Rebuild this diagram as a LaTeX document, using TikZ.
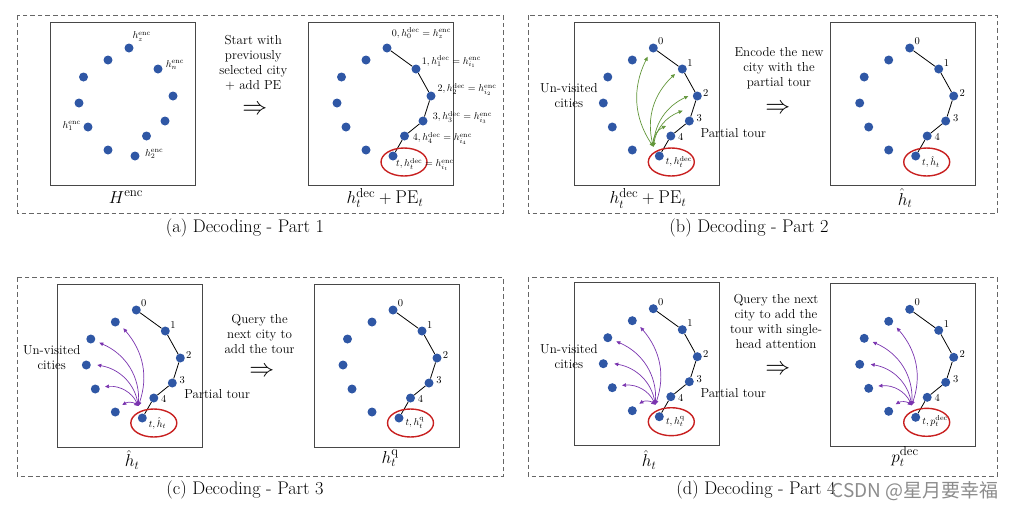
\documentclass[tikz,border=0pt]{standalone}
\usepackage{fontspec}
\newfontfamily\cjk{Noto Sans CJK SC}
\usetikzlibrary{arrows.meta,shapes.geometric}
\definecolor{dotblue}{RGB}{47,87,165}
\definecolor{arrgreen}{RGB}{98,150,58}
\definecolor{arrpurple}{RGB}{122,52,175}
\definecolor{ringred}{RGB}{200,32,32}
\tikzset{
  dot/.style={circle,fill=dotblue,inner sep=0pt,minimum size=9pt},
  tour/.style={draw=black,line width=0.8pt},
  innerbox/.style={draw=black!72,line width=1pt},
  outerbox/.style={draw=black!60,line width=0.8pt,dash pattern=on 4.5pt off 3pt},
  ring/.style={draw=ringred,line width=1.4pt,ellipse,inner sep=0pt,minimum width=46pt,minimum height=28pt},
  lbl/.style={font=\fontsize{10.3}{12}\selectfont,inner sep=0pt},
  num/.style={font=\fontsize{10.5}{12}\selectfont,inner sep=0pt},
  midtext/.style={font=\fontsize{13}{15}\selectfont,align=center,inner sep=0pt},
  imp/.style={font=\fontsize{29}{30}\selectfont,inner sep=0pt},
  captext/.style={font=\fontsize{18.3}{21}\selectfont,inner sep=0pt},
  boxlbl/.style={font=\fontsize{18.5}{21}\selectfont,inner sep=0pt},
  garr/.style={draw=arrgreen,line width=0.7pt,{Triangle[length=4pt,width=3.6pt]}-{Triangle[length=4pt,width=3.6pt]}},
  parr/.style={draw=arrpurple,line width=0.7pt,{Triangle[length=4pt,width=3.6pt]}-{Triangle[length=4pt,width=3.6pt]}},
  cities/.pic={
    \draw[innerbox] (0,0) rectangle (145,163);
    \node[dot] (-0) at (79,26) {};
    \node[dot] (-u1) at (58,38) {};
    \node[dot] (-1) at (108,47) {};
    \node[dot] (-u2) at (33.5,55) {};
    \node[dot] (-2) at (123,74) {};
    \node[dot] (-u3) at (29,81) {};
    \node[dot] (-3) at (115,99) {};
    \node[dot] (-u4) at (38,105) {};
    \node[dot] (-4) at (96.5,114) {};
    \node[dot] (-u5) at (58,128) {};
    \node[dot] (-t) at (85,134) {};
  }
}
\newcommand\tourlines[1]{\draw[tour] (#1-0) -- (#1-1) -- (#1-2) -- (#1-3) -- (#1-4) -- (#1-t);}
\newcommand\numlabels[1]{%
  \node[num] (#1-l0) at ([shift={(7.5,-7)}]#1-0) {0};
  \node[num] (#1-l1) at ([shift={(7.7,-6.3)}]#1-1) {1};
  \node[num] (#1-l2) at ([shift={(8.5,-3)}]#1-2) {2};
  \node[num] (#1-l3) at ([shift={(10,-3)}]#1-3) {3};
  \node[num] (#1-l4) at ([shift={(10,1)}]#1-4) {4};
}
\newcommand\purplefan[1]{%
  \coordinate (#1-s) at ([shift={(-4,-12)}]#1-t);
  \coordinate (#1-a1) at ([shift={(8,6.3)}]#1-u1);
  \coordinate (#1-a2) at ([shift={(8.5,3.7)}]#1-u2);
  \coordinate (#1-a3) at ([shift={(11,0)}]#1-u3);
  \coordinate (#1-a4) at ([shift={(9.7,-2.3)}]#1-u4);
  \coordinate (#1-a5) at ([shift={(7,-7)}]#1-u5);
  \draw[parr] (#1-s) to[bend right=30] (#1-a1);
  \draw[parr] (#1-s) to[bend right=35] (#1-a2);
  \draw[parr] (#1-s) to[bend right=35] (#1-a3);
  \draw[parr] (#1-s) to[bend right=35] (#1-a4);
  \draw[parr] (#1-s) to[bend right=35] (#1-a5);
}
\begin{document}
\begin{tikzpicture}[x=1pt,y=-1pt]
\useasboundingbox (0,0) rectangle (1017,512);
% outer dashed frames
\draw[outerbox] (17,15) rectangle (503,213);
\draw[outerbox] (528,15) rectangle (997,213);
\draw[outerbox] (17,277) rectangle (503,476);
\draw[outerbox] (528,277) rectangle (997,476);
% captions
\node[captext] (capa) at (245,228) {(a) Decoding - Part 1};
\node[captext] (capb) at (749,228) {(b) Decoding - Part 2};
\node[captext] (capc) at (245,490) {(c) Decoding - Part 3};
\node[captext] (capd) at (756,490) {(d) Decoding - Part 4};

% ---------- (a) ----------
\pic (aL) at (50,22) {cities};
\node[lbl] (aL-lz) at (141.7,36.7) {$h_z^{\mathrm{enc}}$};
\node[lbl] (aL-ln) at (175,65) {$h_n^{\mathrm{enc}}$};
\node[lbl] (aL-l1) at (71.7,126) {$h_1^{\mathrm{enc}}$};
\node[lbl] (aL-l2) at (154.3,154) {$h_2^{\mathrm{enc}}$};
\node[boxlbl] (aL-name) at (126,197) {$H^{\mathrm{enc}}$};
\node[midtext] (a-txt) at (253.3,62.5) {Start with\\previously\\selected city\\+ add PE};
\node[imp] (a-imp) at (254.7,110) {$\Rightarrow$};
\pic (aR) at (308,22) {cities};
\tourlines{aR}
\node[ring] (aR-ring) at ([shift={(11,6)}]aR-t) {};
\node[lbl,anchor=west] (aR-l0) at (391.7,33.3) {$0, h_0^{\mathrm{dec}} = h_z^{\mathrm{enc}}$};
\node[lbl,anchor=west] (aR-l1) at (421.7,61.7) {$1, h_1^{\mathrm{dec}} = h_{i_1}^{\mathrm{enc}}$};
\node[lbl,anchor=west] (aR-l2) at (437.3,89.3) {$2, h_2^{\mathrm{dec}} = h_{i_2}^{\mathrm{enc}}$};
\node[lbl,anchor=west] (aR-l3) at (432.7,117.3) {$3, h_3^{\mathrm{dec}} = h_{i_3}^{\mathrm{enc}}$};
\node[lbl,anchor=west] (aR-l4) at (412.7,138.3) {$4, h_4^{\mathrm{dec}} = h_{i_4}^{\mathrm{enc}}$};
\node[lbl,anchor=west] (aR-lt) at (396,164.3) {$t, h_t^{\mathrm{dec}} = h_{i_t}^{\mathrm{enc}}$};
\node[boxlbl] (aR-name) at (385,198) {$h_t^{\mathrm{dec}} + \mathrm{PE}_t$};

% ---------- (b) ----------
\pic (bL) at (574.3,22) {cities};
\tourlines{bL}
\numlabels{bL}
\node[ring] (bL-ring) at ([shift={(12,6)}]bL-t) {};
\node[lbl,anchor=west] (bL-lt) at ([shift={(6.3,5.7)}]bL-t) {$t, h_t^{\mathrm{dec}}$};
\coordinate (bL-s) at ([shift={(-6,-9.3)}]bL-t);
\coordinate (bL-a0) at ([shift={(-5.7,8.7)}]bL-0);
\coordinate (bL-a1) at ([shift={(-7.3,5)}]bL-1);
\coordinate (bL-a2) at ([shift={(-9,0)}]bL-2);
\coordinate (bL-a3) at ([shift={(-6.7,-10.3)}]bL-3);
\coordinate (bL-a4) at ([shift={(-4.8,-10)}]bL-4);
\draw[garr] (bL-s) to[bend left=30] (bL-a0);
\draw[garr] (bL-s) to[bend left=30] (bL-a1);
\draw[garr] (bL-s) to[bend left=30] (bL-a2);
\draw[garr] (bL-s) to[bend left=30] (bL-a3);
\draw[garr] (bL-s) to[bend left=35] (bL-a4);
\node[midtext] (bL-unv) at (568.9,95.8) {Un-visited\\cities};
\node[midtext] (bL-part) at (733.3,132.7) {Partial tour};
\node[boxlbl] (bL-name) at (648,198.3) {$h_t^{\mathrm{dec}} + \mathrm{PE}_t$};
\node[midtext] (b-txt) at (779,68.5) {Encode the new\\city with the\\partial tour};
\node[imp] (b-imp) at (777.7,109) {$\Rightarrow$};
\pic (bR) at (830.7,22) {cities};
\tourlines{bR}
\numlabels{bR}
\node[ring] (bR-ring) at ([shift={(11,6)}]bR-t) {};
\node[lbl,anchor=west] (bR-lt) at ([shift={(6.3,6)}]bR-t) {$t, \hat{h}_t$};
\node[boxlbl] (bR-name) at (905,198.3) {$\hat{h}_t$};

% ---------- (c) ----------
\pic (cL) at (57.3,284) {cities};
\tourlines{cL}
\numlabels{cL}
\purplefan{cL}
\node[ring] (cL-ring) at ([shift={(11.5,5)}]cL-t) {};
\node[lbl,anchor=west] (cL-lt) at ([shift={(6.3,5.5)}]cL-t) {$t, \hat{h}_t$};
\node[midtext] (cL-unv) at (51.7,357.5) {Un-visited\\cities};
\node[midtext] (cL-part) at (217.2,394.3) {Partial tour};
\node[boxlbl] (cL-name) at (132,460) {$\hat{h}_t$};
\node[midtext] (c-txt) at (259.6,334.2) {Query the\\next city to\\add the tour};
\node[imp] (c-imp) at (261.7,371.7) {$\Rightarrow$};
\pic (cR) at (314,284) {cities};
\tourlines{cR}
\numlabels{cR}
\node[ring] (cR-ring) at ([shift={(11.5,5)}]cR-t) {};
\node[lbl,anchor=west] (cR-lt) at ([shift={(6.3,5)}]cR-t) {$t, h_t^{\mathrm{q}}$};
\node[boxlbl] (cR-name) at (390,458.3) {$h_t^{\mathrm{q}}$};

% ---------- (d) ----------
\pic (dL) at (574.3,282.7) {cities};
\tourlines{dL}
\numlabels{dL}
\purplefan{dL}
\node[ring] (dL-ring) at ([shift={(12,5)}]dL-t) {};
\node[lbl,anchor=west] (dL-lt) at ([shift={(6.5,5)}]dL-t) {$t, h_t^{\mathrm{q}}$};
\node[midtext] (dL-unv) at (568.9,356.2) {Un-visited\\cities};
\node[midtext] (dL-part) at (733.3,392.7) {Partial tour};
\node[boxlbl] (dL-name) at (649,460) {$\hat{h}_t$};
\node[midtext] (d-txt) at (776,321) {Query the next\\city to add the\\tour with single-\\head attention};
\node[imp] (d-imp) at (777.8,370) {$\Rightarrow$};
\pic (dR) at (830.7,283.3) {cities};
\tourlines{dR}
\numlabels{dR}
\purplefan{dR}
\node[ring] (dR-ring) at ([shift={(11,5)}]dR-t) {};
\node[lbl,anchor=west] (dR-lt) at ([shift={(6.5,4)}]dR-t) {$t, p_t^{\mathrm{dec}}$};
\node[boxlbl] (dR-name) at (905,456.7) {$p_t^{\mathrm{dec}}$};

% watermark
\node[font=\cjk\fontsize{19}{20}\selectfont,text=black!45,anchor=west,inner sep=0pt] (wm) at (831.7,491) {CSDN @星月要幸福};
\end{tikzpicture}
\end{document}
